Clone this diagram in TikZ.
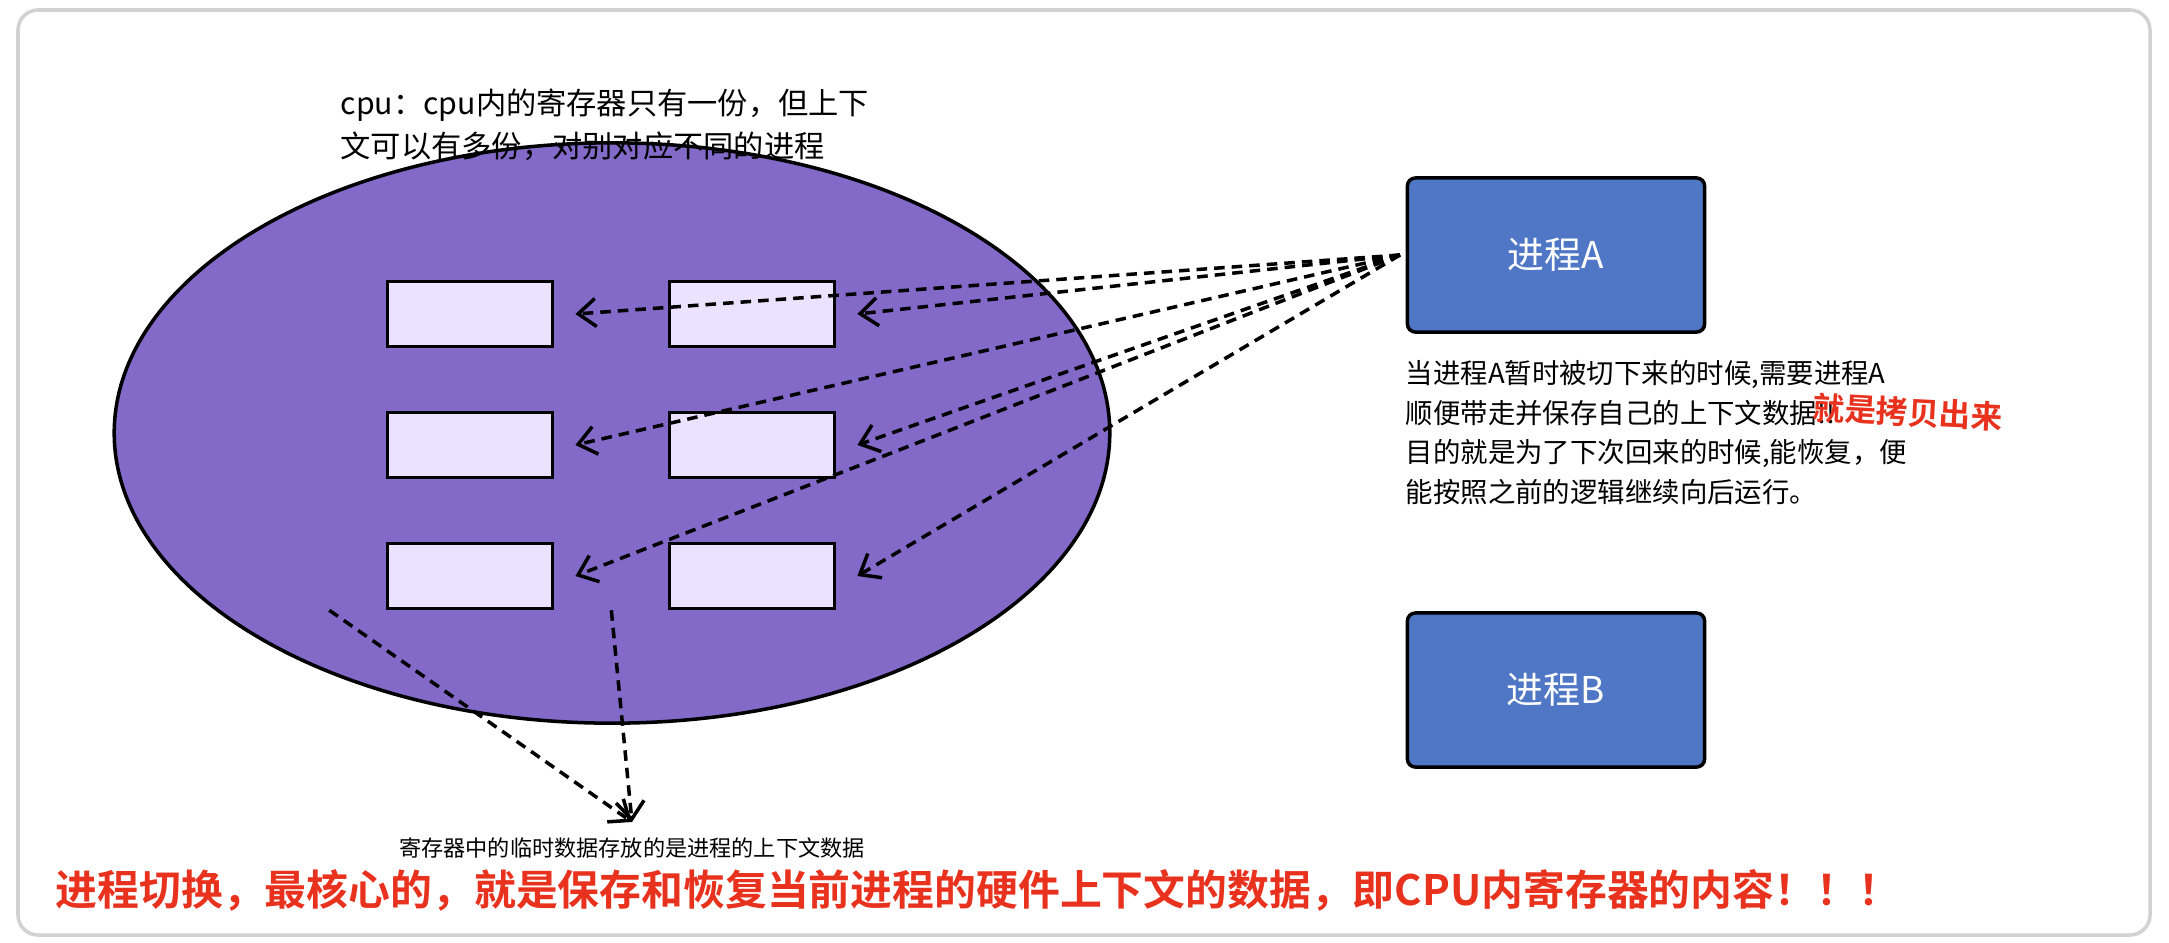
\documentclass[tikz,border=0pt]{standalone}
\usepackage{fontspec}
\setmainfont{Noto Sans CJK SC}
\newfontfamily\cjkb{Noto Sans CJK SC Bold}
\usetikzlibrary{arrows.meta,shapes.geometric}
\definecolor{purp}{HTML}{8369C8}
\definecolor{lav}{HTML}{EAE2FE}
\definecolor{blu}{HTML}{4F77C6}
\definecolor{redt}{HTML}{E8321E}
\tikzset{
  reg/.style={draw=black,line width=1pt,fill=lav,minimum width=1.65cm,minimum height=0.65cm,inner sep=0pt},
  proc/.style={draw=black,line width=1pt,fill=blu,rounded corners=0.08cm,minimum width=2.97cm,minimum height=1.54cm,text=white,font=\fontsize{10.5pt}{12pt}\selectfont},
  darr/.style={densely dashed,line width=1pt,-{Straight Barb[length=5pt,width=8pt]}},
  txt/.style={align=left,inner sep=0pt,anchor=north west}
}
\begin{document}
\begin{tikzpicture}[x=0.01cm,y=-0.01cm]
\useasboundingbox (0,0) rectangle (2169,942);
\draw[gray!35,line width=1pt,rounded corners=0.2cm] (18,10) rectangle (2150,935);
\node[draw=black,line width=1pt,fill=purp,ellipse,minimum width=9.95cm,minimum height=5.8cm,inner sep=0pt] (cpu) at (612,433) {};
\node[reg] (r11) at (470,314) {};
\node[reg] (r12) at (752,314) {};
\node[reg] (r21) at (470,445) {};
\node[reg] (r22) at (752,445) {};
\node[reg] (r31) at (470,576) {};
\node[reg] (r32) at (752,576) {};
\node[proc] (A) at (1556,255) {进程A};
\node[proc] (B) at (1556,690) {进程B};
\coordinate (src) at (1400,255);
\foreach \r in {r11,r12,r21,r22,r31,r32} \draw[darr] (src) -- ([xshift=6pt]\r.east);
\coordinate (tip) at (632,822);
\draw[darr] ([xshift=-40]r31.south) -- (tip);
\draw[darr] ([xshift=-40]r32.south) -- (tip);
\node[inner sep=0pt,font=\fontsize{6.3pt}{8pt}\selectfont] (cap) at (632,848) {寄存器中的临时数据存放的是进程的上下文数据};
\node[txt,font=\fontsize{8.6pt}{12.3pt}\selectfont] (t1) at (340,88) {cpu：cpu内的寄存器只有一份，但上下\\文可以有多份，对别对应不同的进程};
\node[txt,font=\fontsize{7.8pt}{11.2pt}\selectfont] (t2) at (1405,360) {当进程A暂时被切下来的时候,需要进程A\\顺便带走并保存自己的上下文数据!!\\目的就是为了下次回来的时候,能恢复，便\\能按照之前的逻辑继续向后运行。};
\node[text=redt,rotate=-3,font=\cjkb\fontsize{9pt}{10pt}\selectfont,inner sep=0pt] (hw) at (1908,412) {就是拷贝出来};
\node[anchor=west,inner sep=0pt,text=redt,font=\cjkb\fontsize{11.9pt}{14pt}\selectfont] (big) at (55,890) {进程切换，最核心的，就是保存和恢复当前进程的硬件上下文的数据，即CPU内寄存器的内容！！！};
\end{tikzpicture}
\end{document}
